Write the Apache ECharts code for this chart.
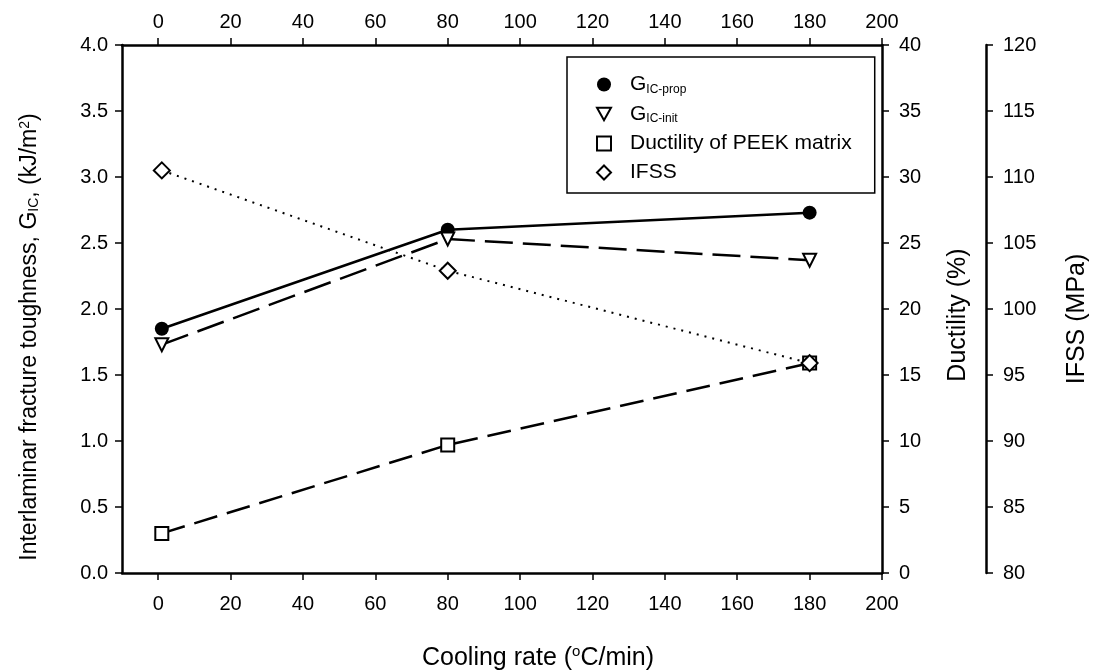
<!DOCTYPE html>
<html lang="en">

<head>
    <meta charset="UTF-8">
    <title>Cooling rate chart</title>
    <script src="https://cdnjs.cloudflare.com/ajax/libs/echarts/6.0.0/echarts.min.js"></script>
    <style>
        body { margin: 0; background: #fff; }
    </style>
</head>

<body>
    <div id="main" style="width: 1094px;height:671px;"></div>

    <script type="text/javascript">
        // data
        const coolingRate = [1, 80, 180];
        const gicProp = [1.85, 2.6, 2.73];
        const gicInit = [1.73, 2.53, 2.37];
        const ductility = [3.0, 9.7, 15.9];
        const ifss = [110.5, 102.9, 95.9];

        const xTicks = [0, 20, 40, 60, 80, 100, 120, 140, 160, 180, 200];
        const gicTicks = ['0.0', '0.5', '1.0', '1.5', '2.0', '2.5', '3.0', '3.5', '4.0'];

        const font = '"Liberation Sans", Arial, sans-serif';
        const ink = '#000';
        const downTri = 'path://M0,0L10,0L5,9Z';

        const myChart = echarts.init(document.getElementById('main'));

        function pairs(ys) {
            return coolingRate.map((x, i) => [x, ys[i]]);
        }

        function xAxisOf(pos, margin) {
            return {
                type: 'value',
                position: pos,
                min: -10,
                max: 200,
                axisLine: { show: true, onZero: false, lineStyle: { color: ink, width: 2.5 } },
                axisTick: { show: true, length: 7, customValues: xTicks, lineStyle: { color: ink, width: 1.5 } },
                axisLabel: { customValues: xTicks, margin: margin, fontSize: 20, fontFamily: font, color: ink },
                splitLine: { show: false }
            };
        }

        function yAxisOf(pos, offset, min, max, margin, fmt) {
            return {
                type: 'value',
                position: pos,
                offset: offset,
                min: min,
                max: max,
                interval: (max - min) / 8,
                axisLine: { show: true, onZero: false, lineStyle: { color: ink, width: 2.5 } },
                axisTick: { show: true, length: 7, lineStyle: { color: ink, width: 1.5 } },
                axisLabel: { margin: margin, fontSize: 20, fontFamily: font, color: ink, formatter: fmt },
                splitLine: { show: false }
            };
        }

        const hollow = { color: '#fff', borderColor: ink, borderWidth: 2 };

        var option = {
            backgroundColor: '#fff',
            animation: false,
            grid: { left: 122, right: 212, top: 45, bottom: 98 },
            legend: {
                left: 567,
                top: 57,
                orient: 'vertical',
                itemWidth: 14,
                itemHeight: 14,
                itemGap: 8,
                padding: [17, 23, 10, 29],
                borderColor: ink,
                borderWidth: 1.5,
                data: [
                    { name: 'G_IC-prop', icon: 'circle' },
                    { name: 'G_IC-init', icon: downTri },
                    { name: 'Ductility of PEEK matrix', icon: 'rect' },
                    { name: 'IFSS', icon: 'diamond' }
                ],
                formatter: function (name) {
                    if (name.indexOf('G_') === 0) {
                        return '{m|G}{s|' + name.slice(2) + '}';
                    }
                    return '{m|' + name + '}';
                },
                textStyle: {
                    fontFamily: font,
                    color: ink,
                    rich: {
                        m: { fontSize: 21, fontFamily: font, color: ink, padding: [0, 0, 0, 14] },
                        s: { fontSize: 12, fontFamily: font, color: ink, verticalAlign: 'bottom', padding: [10, 0, 0, 0] }
                    }
                }
            },
            xAxis: [xAxisOf('bottom', 21), xAxisOf('top', 13)],
            yAxis: [
                yAxisOf('left', 0, 0, 4, 14, (v) => gicTicks[Math.round(v * 2)]),
                yAxisOf('right', 0, 0, 40, 17),
                yAxisOf('right', 104, 80, 120, 17)
            ],
            series: [
                {
                    name: 'G_IC-prop',
                    type: 'line',
                    xAxisIndex: 0,
                    yAxisIndex: 0,
                    data: pairs(gicProp),
                    symbol: 'circle',
                    symbolSize: 14,
                    itemStyle: { color: ink },
                    lineStyle: { color: ink, width: 2.5 }
                },
                {
                    name: 'G_IC-init',
                    type: 'line',
                    yAxisIndex: 0,
                    data: pairs(gicInit),
                    symbol: downTri,
                    symbolSize: 13,
                    itemStyle: hollow,
                    lineStyle: { color: ink, width: 2.5, type: [28, 10] }
                },
                {
                    name: 'Ductility of PEEK matrix',
                    type: 'line',
                    yAxisIndex: 1,
                    data: pairs(ductility),
                    symbol: 'rect',
                    symbolSize: 13,
                    itemStyle: hollow,
                    lineStyle: { color: ink, width: 2.5, type: [24, 10] }
                },
                {
                    name: 'IFSS',
                    type: 'line',
                    yAxisIndex: 2,
                    data: pairs(ifss),
                    symbol: 'diamond',
                    symbolSize: 16,
                    itemStyle: hollow,
                    lineStyle: { color: ink, width: 2, type: [2, 6] }
                }
            ],
            graphic: [
                {
                    type: 'text',
                    x: 538,
                    y: 658,
                    style: {
                        text: 'Cooling rate ({sup|o}C/min)',
                        fontSize: 25,
                        fontFamily: font,
                        fill: ink,
                        align: 'center',
                        verticalAlign: 'middle',
                        rich: { sup: { fontSize: 15, fontFamily: font, fill: ink, verticalAlign: 'top', padding: [0, 0, 12, 0] } }
                    }
                },
                {
                    type: 'text',
                    x: 30,
                    y: 337,
                    rotation: Math.PI / 2,
                    style: {
                        text: 'Interlaminar fracture toughness, G{sub|IC}, (kJ/m{sup|2})',
                        fontSize: 23,
                        fontFamily: font,
                        fill: ink,
                        align: 'center',
                        verticalAlign: 'middle',
                        rich: {
                            sub: { fontSize: 14, fontFamily: font, fill: ink, verticalAlign: 'bottom', padding: [9, 0, 0, 0] },
                            sup: { fontSize: 14, fontFamily: font, fill: ink, verticalAlign: 'top', padding: [0, 0, 9, 0] }
                        }
                    }
                },
                {
                    type: 'text',
                    x: 958,
                    y: 315,
                    rotation: Math.PI / 2,
                    style: { text: 'Ductility (%)', fontSize: 25, fontFamily: font, fill: ink, align: 'center', verticalAlign: 'middle' }
                },
                {
                    type: 'text',
                    x: 1077,
                    y: 319,
                    rotation: Math.PI / 2,
                    style: { text: 'IFSS (MPa)', fontSize: 25, fontFamily: font, fill: ink, align: 'center', verticalAlign: 'middle' }
                }
            ]
        };

        myChart.setOption(option);
    </script>
</body>

</html>
